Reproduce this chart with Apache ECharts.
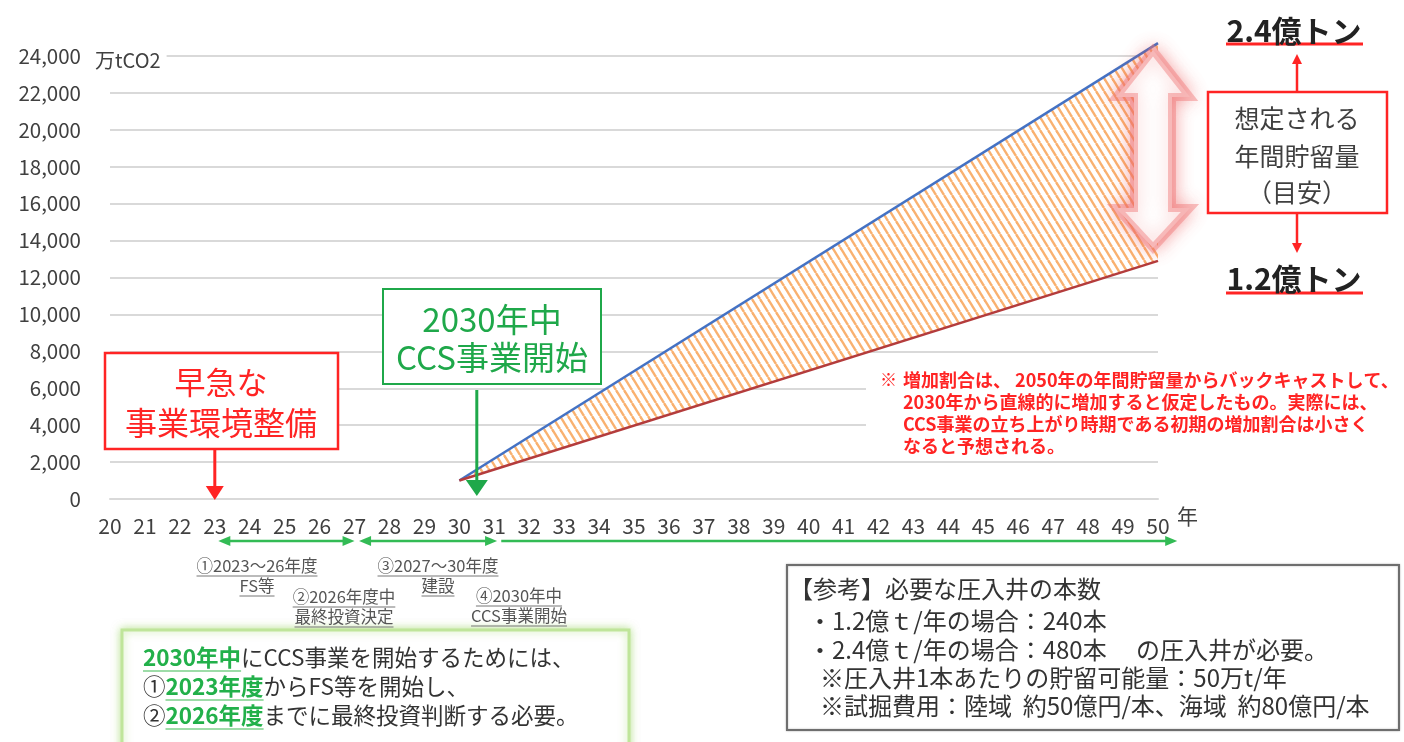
<!DOCTYPE html>
<html><head><meta charset="utf-8">
<script src="https://cdn.jsdelivr.net/npm/echarts@6/dist/echarts.min.js"></script>
<style>html,body{margin:0;padding:0;background:#fff}#c{width:1404px;height:742px}</style>
</head><body><div id="c"></div>
<script>
// ---- data ----
const xTickYears = [20,21,22,23,24,25,26,27,28,29,30,31,32,33,34,35,36,37,38,39,40,41,42,43,44,45,46,47,48,49,50];
const yTicks = [0,2000,4000,6000,8000,10000,12000,14000,16000,18000,20000,22000,24000];
const upperYears = [30, 50];
const upperValues = [1000, 24700];   // 2.4億トン case (万tCO2)
const lowerYears = [30, 50];
const lowerValues = [1000, 12900];   // 1.2億トン case (万tCO2)
const yUnit = '万tCO2';
const xUnit = '年';

const F = '"Noto Sans CJK JP", "Noto Sans", sans-serif';

// hatch pattern
function makeHatch() {
  const w = 8, h = 13;
  const c = document.createElement('canvas');
  c.width = w; c.height = h;
  const g = c.getContext('2d');
  g.fillStyle = '#ffffff'; g.fillRect(0,0,w,h);
  g.strokeStyle = '#f9b170'; g.lineWidth = 2.4;
  for (const x0 of [-w, 0, w]) {
    g.beginPath(); g.moveTo(x0, 0); g.lineTo(x0 + w, h); g.stroke();
  }
  return c;
}
const hatch = makeHatch();

const mctx = document.createElement('canvas').getContext('2d');
function measure(text, font) { mctx.font = font; return mctx.measureText(text).width; }

const chart = echarts.init(document.getElementById('c'), null, {renderer: 'canvas'});

const option = {
  backgroundColor: '#fff',
  animation: false,
  grid: {left: 110, right: 246, top: 56, bottom: 243},
  xAxis: {
    type: 'value', min: xTickYears[0], max: xTickYears[xTickYears.length-1], interval: 1,
    axisLine: {show: true, lineStyle: {color: '#d9d9d9', width: 2}},
    axisTick: {show: false},
    splitLine: {show: false},
    axisLabel: {fontSize: 21, color: '#404040', fontFamily: F, margin: 17,
      formatter: v => xTickYears.includes(v) ? String(v) : ''}
  },
  yAxis: {
    type: 'value', min: yTicks[0], max: yTicks[yTicks.length-1], interval: 2000,
    axisLine: {show: false}, axisTick: {show: false},
    splitLine: {show: true, lineStyle: {color: '#d9d9d9', width: 2}},
    axisLabel: {fontSize: 20.5, color: '#404040', fontFamily: F, margin: 29,
      formatter: v => v.toLocaleString('en-US')}
  },
  series: [
    {
      type: 'custom', z: 2, clip: false,
      data: [[upperYears[0], upperValues[0]]],
      renderItem: (params, api) => {
        const pts = [];
        upperYears.forEach((y, i) => pts.push(api.coord([y, upperValues[i]])));
        for (let i = lowerYears.length - 1; i >= 0; i--) pts.push(api.coord([lowerYears[i], lowerValues[i]]));
        return {type: 'polygon', shape: {points: pts}, style: {fill: {image: hatch, repeat: 'repeat'}, stroke: null}};
      },
      silent: true
    },
    {
      type: 'line', z: 3, clip: false, symbol: 'none',
      data: upperYears.map((y, i) => [y, upperValues[i]]),
      lineStyle: {color: '#4472c4', width: 2.5}
    },
    {
      type: 'line', z: 3, clip: false, symbol: 'none',
      data: lowerYears.map((y, i) => [y, lowerValues[i]]),
      lineStyle: {color: '#b43c3c', width: 2.5}
    }
  ]
};
chart.setOption(option);

const X = yr => chart.convertToPixel({xAxisIndex: 0}, yr);
const Y = v => chart.convertToPixel({yAxisIndex: 0}, v);

function T(x, y, text, fs, color, o = {}) {
  return {type: 'text', x, y, z: o.z || 50, style: {
    text, font: `${o.weight || 'normal'} ${fs}px ${F}`, fill: color,
    textAlign: o.align || 'center', textVerticalAlign: 'middle', verticalAlign: 'middle',
    backgroundColor: o.bg, padding: o.pad
  }};
}
function L(x1, y1, x2, y2, color, w, z = 40) {
  return {type: 'line', z, shape: {x1, y1, x2, y2}, style: {stroke: color, lineWidth: w}};
}
function P(points, fill, z = 41, extra = {}) {
  return {type: 'polygon', z, shape: {points}, style: Object.assign({fill}, extra)};
}
function R(x, y, w, h, stroke, lw, fill = '#fff', z = 30, extra = {}) {
  return {type: 'rect', z, shape: {x, y, width: w, height: h}, style: Object.assign({fill, stroke, lineWidth: lw}, extra)};
}
function headDown(x, tipY, hw, hh, c) { return P([[x, tipY], [x - hw, tipY - hh], [x + hw, tipY - hh]], c); }
function headUp(x, tipY, hw, hh, c) { return P([[x, tipY], [x - hw, tipY + hh], [x + hw, tipY + hh]], c); }
function headLeft(x, y, hw, hh, c) { return P([[x, y], [x + hh, y - hw], [x + hh, y + hw]], c); }
function headRight(x, y, hw, hh, c) { return P([[x, y], [x - hh, y - hw], [x - hh, y + hw]], c); }

const G = [];
const RED = '#ff2424', GREEN = '#1fa84a', DARK = '#404040';

// unit labels
G.push(T(93, 60, yUnit, 20, DARK, {align: 'left', bg: '#fff', pad: [2, 6, 2, 2]}));
G.push(T(1177, 516, xUnit, 21, DARK, {align: 'left'}));

// white background behind the red note (covers gridlines)
G.push(R(866, 368, 538, 92, null, 0, '#fff', 1));
// red note
const noteLines = [
  '増加割合は、 2050年の年間貯留量からバックキャストして、',
  '2030年から直線的に増加すると仮定したもの。実際には、',
  'CCS事業の立ち上がり時期である初期の増加割合は小さく',
  'なると予想される。'
];
G.push(T(880, 380, '※', 17, RED, {align: 'left', weight: 'bold'}));
noteLines.forEach((s, i) => G.push(T(903, 380 + i * 22, s, 18, RED, {align: 'left', weight: 'bold'})));

// white double arrow with red glow
const ax = 1153;
G.push(P([[ax, 50], [ax + 37, 97], [ax + 19, 97], [ax + 19, 208], [ax + 37, 208], [ax, 248],
  [ax - 37, 208], [ax - 19, 208], [ax - 19, 97], [ax - 37, 97]], '#ffffff', 20,
  {stroke: 'rgba(240,120,120,0.45)', lineWidth: 8, shadowBlur: 18, shadowColor: 'rgba(235,70,70,0.55)'}));

// right red box
G.push(R(1208, 92, 179, 121, RED, 2.5, '#fff', 30));
G.push(T(1297, 118, '想定される', 25, DARK));
G.push(T(1297, 156, '年間貯留量', 25, DARK));
G.push(T(1297, 192, '（目安）', 25, DARK));
G.push(L(1297, 92, 1297, 62, RED, 2.5));
G.push(headUp(1297, 54, 5, 10, RED));
G.push(L(1297, 213, 1297, 244, RED, 2.5));
G.push(headDown(1297, 253, 5, 10, RED));
G.push(T(1294, 31, '2.4億トン', 30, '#222', {weight: 'bold'}));
G.push(L(1226, 44, 1363, 44, RED, 3));
G.push(T(1294, 279, '1.2億トン', 30, '#222', {weight: 'bold'}));
G.push(L(1226, 293, 1363, 293, RED, 3));

// left red box
G.push(R(105, 353, 233, 96, RED, 2.5, '#fff', 30));
G.push(T(221, 382, '早急な', 31, RED));
G.push(T(221, 423, '事業環境整備', 32, RED));
const xr = X(23);
G.push(L(xr, 449, xr, 488, RED, 3));
G.push(headDown(xr, 500, 9, 14, RED));

// green box
G.push(R(383, 289, 218, 95, GREEN, 2, '#fff', 30));
G.push(T(492, 319, '2030年中', 33, GREEN));
G.push(T(492, 357, 'CCS事業開始', 33, GREEN));
const xg = X(30.5);
G.push(L(xg, 390, xg, 482, GREEN, 3));
G.push(headDown(xg, 496, 11, 16, GREEN));

// timeline double arrows
const TL = '#33bb55', ty = 541;
function dbl(a, b, left, right) {
  const x1 = X(a), x2 = X(b);
  G.push(L(x1 + (left ? 6 : 0), ty, x2 - (right ? 6 : 0), ty, TL, 2.5));
  if (left) G.push(headLeft(x1, ty, 5, 12, TL));
  if (right) G.push(headRight(x2, ty, 5, 12, TL));
}
dbl(23.1, 27.0, true, true);
dbl(27.13, 31.08, true, true);
dbl(31.2, 50.55, false, true);

// annotation labels (underlined)
const annF = 16.5;
function ann(cx, y, s) {
  G.push(T(cx, y, s, annF, '#555'));
  const w = measure(s, `${annF}px ${F}`);
  G.push(L(cx - w / 2, y + 10, cx + w / 2, y + 10, '#777', 1));
}
ann(257, 566, '①2023～26年度'); ann(257, 586, 'FS等');
ann(344, 597, '②2026年度中'); ann(344, 617, '最終投資決定');
ann(438, 566, '③2027～30年度'); ann(438, 586, '建設');
ann(519, 596, '④2030年中'); ann(519, 616, 'CCS事業開始');

// bottom-left green box
G.push(R(122, 630, 507, 130, '#bfe59a', 3, '#fff', 30, {shadowBlur: 8, shadowColor: 'rgba(150,210,90,0.6)'}));
const bF = 22.5;
const bl = [
  [['g', '2030年中'], ['n', 'にCCS事業を開始するためには、']],
  [['n', '①'], ['g', '2023年度'], ['n', 'からFS等を開始し、']],
  [['n', '②'], ['g', '2026年度'], ['n', 'までに最終投資判断する必要。']]
];
bl.forEach((segs, i) => {
  let x = 143; const y = 657 + i * 29;
  segs.forEach(([k, s]) => {
    const wt = k === 'g' ? 'bold' : 'normal';
    const font = `${wt} ${bF}px ${F}`;
    const w = measure(s, font);
    G.push(T(x, y, s, bF, k === 'g' ? '#22b04a' : '#333', {align: 'left', weight: wt}));
    if (k === 'g') G.push(L(x, y + 14, x + w, y + 14, '#9ddca8', 2));
    x += w;
  });
});

// bottom-right reference box
G.push(R(787, 565, 612, 165, '#6e6e6e', 2, '#fff', 30, {shadowBlur: 2, shadowColor: 'rgba(0,0,0,0.3)'}));
const rF = 24;
G.push(T(789, 589, '【参考】必要な圧入井の本数', rF, '#333', {align: 'left'}));
G.push(T(808, 621, '・1.2億ｔ/年の場合：240本', rF, '#333', {align: 'left'}));
G.push(T(808, 650, '・2.4億ｔ/年の場合：480本　 の圧入井が必要。', rF, '#333', {align: 'left'}));
G.push(T(820, 678, '※圧入井1本あたりの貯留可能量：50万t/年', rF, '#333', {align: 'left'}));
G.push(T(820, 706, '※試掘費用：陸域  約50億円/本、海域  約80億円/本', rF, '#333', {align: 'left'}));

chart.setOption({graphic: {elements: G}});
</script>
</body></html>
